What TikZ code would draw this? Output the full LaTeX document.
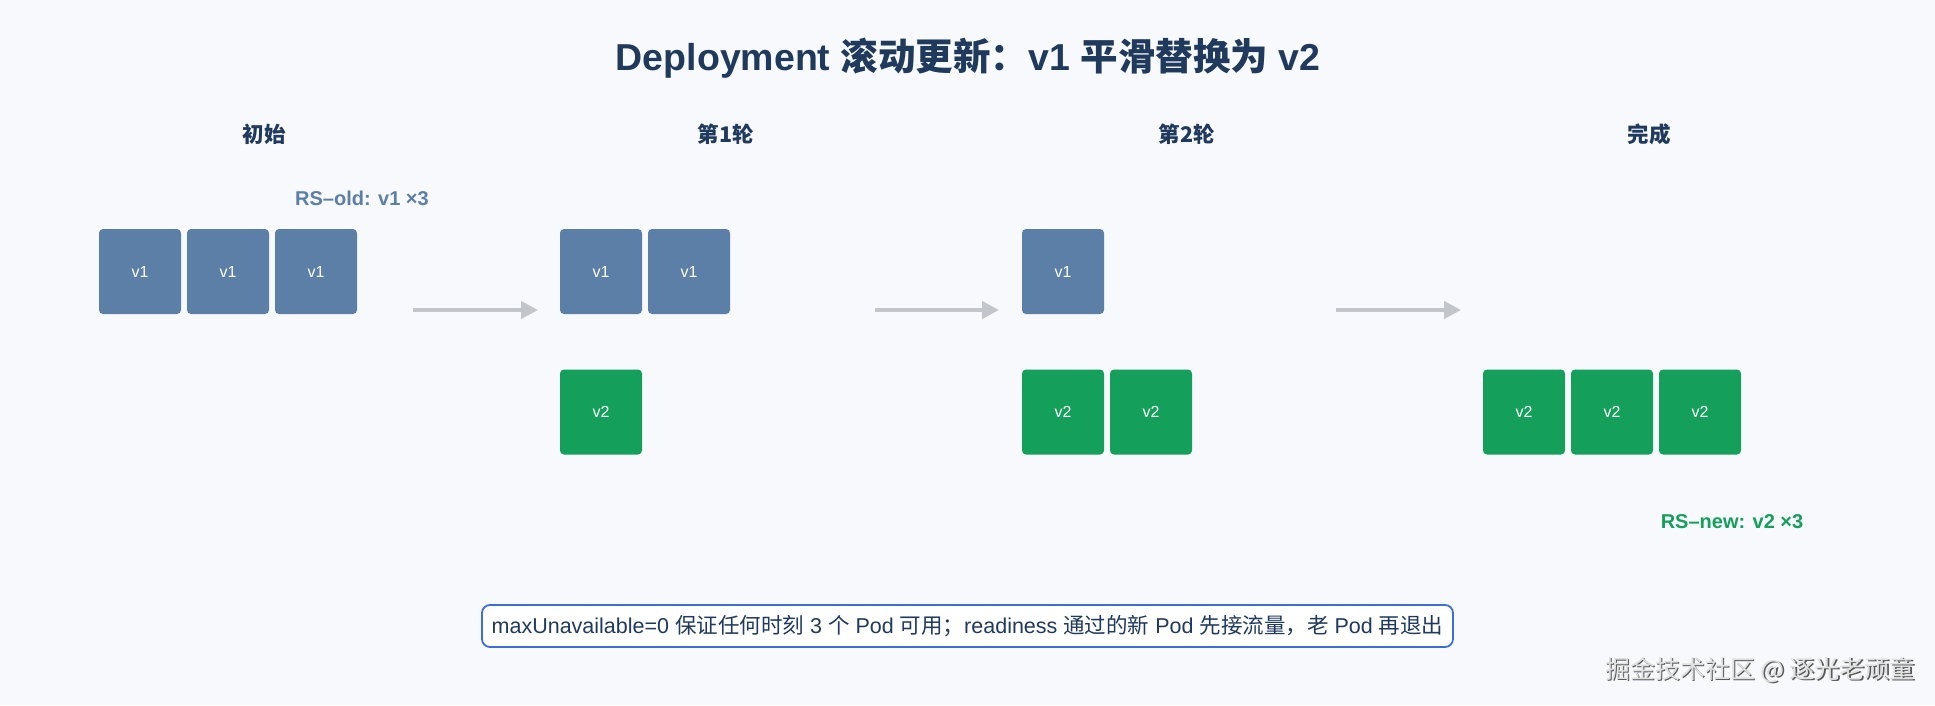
\documentclass[tikz,border=0pt]{standalone}
\usepackage{fontspec}
\setmainfont{Liberation Sans}
\newfontfamily\cjk{Noto Sans CJK SC}
\usetikzlibrary{arrows.meta}
\definecolor{bgc}{HTML}{F7F9FC}
\definecolor{navy}{HTML}{1F3A5C}
\definecolor{oldc}{HTML}{5B7FA6}
\definecolor{newc}{HTML}{14A05B}
\definecolor{arrc}{HTML}{C2C5C9}
\definecolor{notec}{HTML}{3B6FD8}
\tikzset{
  pod/.style={rounded corners=4pt, minimum width=82pt, minimum height=85pt, inner sep=0pt,
    text=white, font=\fontsize{16}{19}\selectfont},
  podold/.style={pod, fill=oldc},
  podnew/.style={pod, fill=newc},
  heading/.style={text=navy, font=\fontsize{21.5}{25}\selectfont\bfseries\cjk},
  titlestyle/.style={text=navy, font=\fontsize{37.5}{42}\selectfont\bfseries},
  flow/.style={draw=arrc, line width=4pt, -{Triangle[length=17pt,width=17pt]}},
  rslabel/.style={font=\fontsize{20}{24}\selectfont\bfseries},
}
\begin{document}
\begin{tikzpicture}[x=1pt,y=-1pt]
\useasboundingbox[fill=bgc] (0,0) rectangle (1935,705);

\node[titlestyle] (title) at (968,58) {Deployment {\cjk\bfseries 滚动更新：}v1 {\cjk\bfseries 平滑替换为} v2};

\node[heading] (h1) at (264,134) {初始};
\node[heading] (h2) at (726,134) {第1轮};
\node[heading] (h3) at (1187,134) {第2轮};
\node[heading] (h4) at (1649,134) {完成};

\node[rslabel, text=oldc] (rsold) at (362,198) {RS\textendash old: v1 ×3};

% initial
\node[podold] (a1) at (140,271.5) {v1};
\node[podold] (a2) at (228,271.5) {v1};
\node[podold] (a3) at (316,271.5) {v1};
% round 1
\node[podold] (b1) at (601,271.5) {v1};
\node[podold] (b2) at (689,271.5) {v1};
\node[podnew] (b3) at (601,412) {v2};
% round 2
\node[podold] (c1) at (1063,271.5) {v1};
\node[podnew] (c2) at (1063,412) {v2};
\node[podnew] (c3) at (1151,412) {v2};
% done
\node[podnew] (d1) at (1524,412) {v2};
\node[podnew] (d2) at (1612,412) {v2};
\node[podnew] (d3) at (1700,412) {v2};

\node[rslabel, text=newc] (rsnew) at (1732,522) {RS\textendash new: v2 ×3};

\coordinate (p1s) at (413,310); \coordinate (p1e) at (538,310);
\coordinate (p2s) at (875,310); \coordinate (p2e) at (999,310);
\coordinate (p3s) at (1336,310); \coordinate (p3e) at (1461,310);
\draw[flow] (p1s) -- (p1e);
\draw[flow] (p2s) -- (p2e);
\draw[flow] (p3s) -- (p3e);

\node[draw=notec, line width=1.8pt, rounded corners=8pt, fill=white, minimum width=971pt, minimum height=42pt,
  font=\fontsize{21.5}{24}\selectfont, text=navy] (note) at (967.5,626)
  {maxUnavailable=0 {\cjk 保证任何时刻} 3 {\cjk 个} Pod {\cjk 可用；}readiness {\cjk 通过的新} Pod {\cjk 先接流量，老} Pod {\cjk 再退出}};

\node[font=\fontsize{25}{29}\selectfont\cjk, text=black!65] (wmshadow) at (1761.5,671.5) {掘金技术社区 @ 逐光老顽童};
\node[font=\fontsize{25}{29}\selectfont\cjk, text=black!12] (wm) at (1760,670) {掘金技术社区 @ 逐光老顽童};
\end{tikzpicture}
\end{document}
